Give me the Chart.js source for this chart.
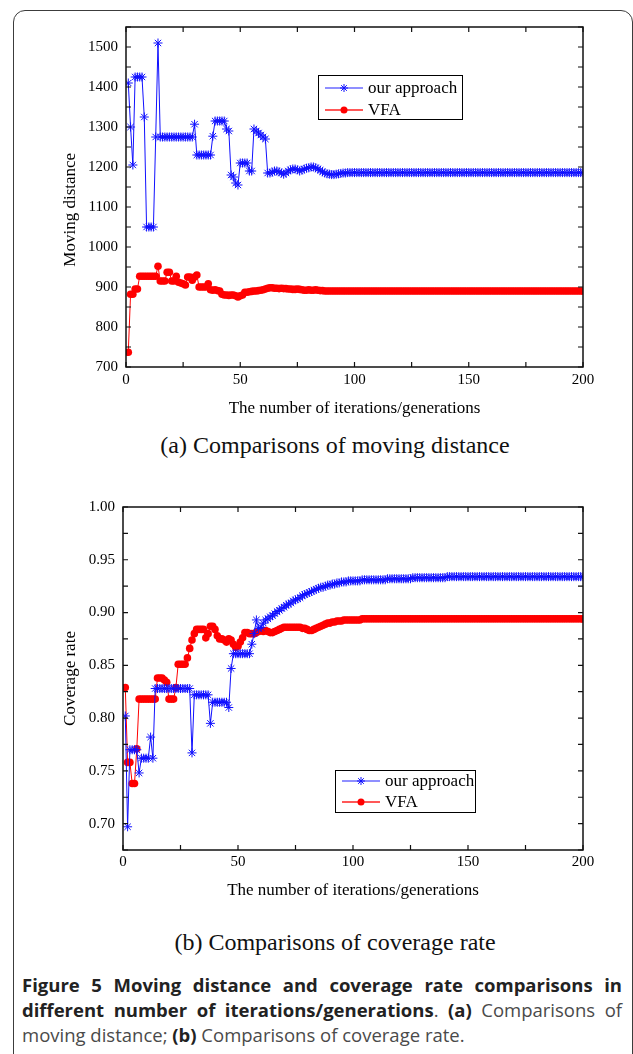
<!DOCTYPE html>
<html lang="en">
<head>
<meta charset="UTF-8">
<title>Figure 5 - Moving distance and coverage rate</title>
<script src="https://cdn.jsdelivr.net/npm/chart.js"></script>
<style>
  html, body { margin: 0; padding: 0; background: #fff; }
  body { width: 633px; height: 1054px; position: relative; overflow: hidden; }
  .frame { position: absolute; left: 13px; top: 10px; width: 620px; height: 1100px;
           border: 1.5px solid #3c3c3c; border-radius: 12px; box-sizing: border-box; }
  canvas { position: absolute; left: 0; }
  #distChart { top: 0; }
  #covChart { top: 470px; }
  .sub { position: absolute; left: 0; width: 670px; text-align: center;
         font-family: "Liberation Serif", "Times New Roman", serif; font-size: 24px; color: #111; }
  .caption { position: absolute; left: 22px; top: 972px; width: 600px;
             font-family: "Open Sans", "Noto Sans", sans-serif; font-size: 18.5px; line-height: 25px; color: #4a4a4a; }
  .caption div { text-align: justify; white-space: nowrap; }
  .caption .j { text-align-last: justify; }
  .caption b { color: #222; }
</style>
</head>
<body>
<div class="frame"></div>
<canvas id="distChart" width="633" height="425"></canvas>
<div class="sub" style="top: 432px;">(a) Comparisons of moving distance</div>
<canvas id="covChart" width="633" height="437"></canvas>
<div class="sub" style="top: 929px;">(b) Comparisons of coverage rate</div>
<div class="caption">
  <div class="j"><b>Figure 5 Moving distance and coverage rate comparisons in</b></div>
  <div class="j"><b>different number of iterations/generations</b>. <b>(a)</b> Comparisons of</div>
  <div>moving distance; <b>(b)</b> Comparisons of coverage rate.</div>
</div>
<script>
// iterations 1..200
const iterations = Array.from({ length: 200 }, (_, i) => i + 1);
const seriesNames = ['our approach', 'VFA'];

// (a) moving distance
const distOurs = [
  1410, 1300, 1205, 1425, 1425, 1425, 1425, 1325, 1050, 1050,
  1050, 1050, 1275, 1510, 1275, 1275, 1275, 1275, 1275, 1275,
  1275, 1275, 1275, 1275, 1275, 1275, 1275, 1275, 1275, 1307,
  1230, 1230, 1230, 1230, 1230, 1230, 1230, 1277, 1315, 1315,
  1315, 1315, 1315, 1295, 1290, 1180, 1175, 1160, 1155, 1210,
  1210, 1210, 1210, 1190, 1190, 1295, 1290, 1285, 1280, 1275,
  1270, 1185, 1185, 1187, 1190, 1190, 1188, 1185, 1182, 1185,
  1190, 1193, 1195, 1195, 1193, 1190, 1192, 1195, 1197, 1198,
  1200, 1200, 1198, 1195, 1192, 1188, 1185, 1183, 1182, 1181,
  1181, 1182, 1183, 1184, 1185, 1185, 1186, 1186, 1186, 1186,
  1186, 1186, 1186, 1186, 1186, 1186, 1186, 1186, 1186, 1186,
  1186, 1186, 1186, 1186, 1186, 1186, 1186, 1186, 1186, 1186,
  1186, 1186, 1186, 1186, 1186, 1186, 1186, 1186, 1186, 1186,
  1186, 1186, 1186, 1186, 1186, 1186, 1186, 1186, 1186, 1186,
  1186, 1186, 1186, 1186, 1186, 1186, 1186, 1186, 1186, 1186,
  1186, 1186, 1186, 1186, 1186, 1186, 1186, 1186, 1186, 1186,
  1186, 1186, 1186, 1186, 1186, 1186, 1186, 1186, 1186, 1186,
  1186, 1186, 1186, 1186, 1186, 1186, 1186, 1186, 1186, 1186,
  1186, 1186, 1186, 1186, 1186, 1186, 1186, 1186, 1186, 1186,
  1186, 1186, 1186, 1186, 1186, 1186, 1186, 1186, 1186, 1186
];
const distVfa = [
  737, 882, 882, 895, 895, 927, 927, 927, 927, 927,
  927, 927, 927, 952, 915, 915, 915, 937, 937, 915,
  915, 927, 912, 910, 908, 905, 925, 925, 917, 925,
  930, 900, 900, 900, 900, 908, 893, 892, 893, 891,
  890, 882, 880, 880, 879, 880, 880, 878, 875, 878,
  880, 887, 887, 888, 889, 890, 890, 891, 892, 893,
  895, 897, 898, 898, 897, 897, 896, 897, 896, 896,
  895, 895, 894, 894, 895, 894, 893, 892, 892, 893,
  892, 892, 893, 892, 891, 891, 890, 890, 890, 890,
  890, 890, 890, 890, 890, 890, 890, 890, 890, 890,
  890, 890, 890, 890, 890, 890, 890, 890, 890, 890,
  890, 890, 890, 890, 890, 890, 890, 890, 890, 890,
  890, 890, 890, 890, 890, 890, 890, 890, 890, 890,
  890, 890, 890, 890, 890, 890, 890, 890, 890, 890,
  890, 890, 890, 890, 890, 890, 890, 890, 890, 890,
  890, 890, 890, 890, 890, 890, 890, 890, 890, 890,
  890, 890, 890, 890, 890, 890, 890, 890, 890, 890,
  890, 890, 890, 890, 890, 890, 890, 890, 890, 890,
  890, 890, 890, 890, 890, 890, 890, 890, 890, 890,
  890, 890, 890, 890, 890, 890, 890, 890, 890, 890
];

// (b) coverage rate
const covOurs = [
  0.802, 0.697, 0.770, 0.770, 0.770, 0.770, 0.748, 0.762, 0.762, 0.762,
  0.762, 0.782, 0.762, 0.828, 0.828, 0.828, 0.828, 0.828, 0.828, 0.828,
  0.828, 0.828, 0.828, 0.828, 0.828, 0.828, 0.828, 0.828, 0.828, 0.767,
  0.822, 0.822, 0.822, 0.822, 0.822, 0.822, 0.822, 0.795, 0.815, 0.815,
  0.815, 0.815, 0.815, 0.815, 0.815, 0.810, 0.847, 0.861, 0.861, 0.861,
  0.861, 0.861, 0.861, 0.861, 0.861, 0.870, 0.880, 0.893, 0.885, 0.886,
  0.890, 0.893, 0.894, 0.896, 0.897, 0.899, 0.901, 0.902, 0.904, 0.905,
  0.907, 0.908, 0.909, 0.911, 0.912, 0.913, 0.914, 0.916, 0.917, 0.918,
  0.919, 0.920, 0.921, 0.922, 0.923, 0.924, 0.924, 0.925, 0.926, 0.926,
  0.927, 0.927, 0.928, 0.928, 0.929, 0.929, 0.929, 0.930, 0.930, 0.930,
  0.930, 0.930, 0.930, 0.931, 0.931, 0.931, 0.931, 0.931, 0.931, 0.931,
  0.931, 0.931, 0.931, 0.931, 0.932, 0.932, 0.932, 0.932, 0.932, 0.932,
  0.932, 0.932, 0.932, 0.932, 0.932, 0.933, 0.933, 0.933, 0.933, 0.933,
  0.933, 0.933, 0.933, 0.933, 0.933, 0.933, 0.933, 0.933, 0.933, 0.933,
  0.934, 0.934, 0.934, 0.934, 0.934, 0.934, 0.934, 0.934, 0.934, 0.934,
  0.934, 0.934, 0.934, 0.934, 0.934, 0.934, 0.934, 0.934, 0.934, 0.934,
  0.934, 0.934, 0.934, 0.934, 0.934, 0.934, 0.934, 0.934, 0.934, 0.934,
  0.934, 0.934, 0.934, 0.934, 0.934, 0.934, 0.934, 0.934, 0.934, 0.934,
  0.934, 0.934, 0.934, 0.934, 0.934, 0.934, 0.934, 0.934, 0.934, 0.934,
  0.934, 0.934, 0.934, 0.934, 0.934, 0.934, 0.934, 0.934, 0.934, 0.934
];
const covVfa = [
  0.829, 0.758, 0.758, 0.738, 0.738, 0.771, 0.818, 0.818, 0.818, 0.818,
  0.818, 0.818, 0.818, 0.818, 0.838, 0.838, 0.838, 0.836, 0.834, 0.818,
  0.818, 0.818, 0.829, 0.851, 0.851, 0.851, 0.851, 0.857, 0.866, 0.874,
  0.880, 0.884, 0.884, 0.884, 0.884, 0.876, 0.880, 0.887, 0.887, 0.884,
  0.878, 0.875, 0.875, 0.874, 0.872, 0.875, 0.874, 0.870, 0.867, 0.868,
  0.872, 0.876, 0.881, 0.881, 0.880, 0.880, 0.880, 0.881, 0.882, 0.883,
  0.882, 0.883, 0.882, 0.881, 0.881, 0.882, 0.883, 0.884, 0.885, 0.886,
  0.886, 0.886, 0.886, 0.886, 0.886, 0.886, 0.886, 0.885, 0.885, 0.884,
  0.883, 0.883, 0.884, 0.885, 0.886, 0.887, 0.888, 0.889, 0.890, 0.890,
  0.891, 0.891, 0.892, 0.892, 0.892, 0.893, 0.893, 0.893, 0.893, 0.893,
  0.893, 0.893, 0.893, 0.894, 0.894, 0.894, 0.894, 0.894, 0.894, 0.894,
  0.894, 0.894, 0.894, 0.894, 0.894, 0.894, 0.894, 0.894, 0.894, 0.894,
  0.894, 0.894, 0.894, 0.894, 0.894, 0.894, 0.894, 0.894, 0.894, 0.894,
  0.894, 0.894, 0.894, 0.894, 0.894, 0.894, 0.894, 0.894, 0.894, 0.894,
  0.894, 0.894, 0.894, 0.894, 0.894, 0.894, 0.894, 0.894, 0.894, 0.894,
  0.894, 0.894, 0.894, 0.894, 0.894, 0.894, 0.894, 0.894, 0.894, 0.894,
  0.894, 0.894, 0.894, 0.894, 0.894, 0.894, 0.894, 0.894, 0.894, 0.894,
  0.894, 0.894, 0.894, 0.894, 0.894, 0.894, 0.894, 0.894, 0.894, 0.894,
  0.894, 0.894, 0.894, 0.894, 0.894, 0.894, 0.894, 0.894, 0.894, 0.894,
  0.894, 0.894, 0.894, 0.894, 0.894, 0.894, 0.894, 0.894, 0.894, 0.894
];

// tick labels
const xTicks = [0, 50, 100, 150, 200];
const distTicks = [700, 800, 900, 1000, 1100, 1200, 1300, 1400, 1500];
const covTicks = [0.70, 0.75, 0.80, 0.85, 0.90, 0.95, 1.00];

const SERIF = "'Liberation Serif', 'Times New Roman', serif";
Chart.defaults.font.family = SERIF;
Chart.defaults.color = '#000';

function toPoints(ys) {
  return iterations.map((x, i) => ({ x: x, y: ys[i] }));
}

// box around the plot plus small inward ticks on all four sides
const frameTicks = {
  id: 'frameTicks',
  afterDatasetsDraw(chart, args, opts) {
    const { ctx, chartArea: a, scales } = chart;
    ctx.save();
    ctx.strokeStyle = '#111';
    ctx.lineWidth = 1.5;
    ctx.strokeRect(a.left, a.top, a.right - a.left, a.bottom - a.top);
    ctx.lineWidth = 1.2;
    const len = 5;
    ctx.beginPath();
    const nx = Math.round((opts.xMax - opts.xMin) / opts.xStep);
    for (let k = 0; k <= nx; k++) {
      const px = scales.x.getPixelForValue(opts.xMin + k * opts.xStep);
      ctx.moveTo(px, a.bottom); ctx.lineTo(px, a.bottom - len);
      ctx.moveTo(px, a.top); ctx.lineTo(px, a.top + len);
    }
    const ny = Math.round((opts.yMax - opts.yMin) / opts.yStep);
    for (let k = 0; k <= ny; k++) {
      const py = scales.y.getPixelForValue(opts.yMin + k * opts.yStep);
      ctx.moveTo(a.left, py); ctx.lineTo(a.left + len, py);
      ctx.moveTo(a.right, py); ctx.lineTo(a.right - len, py);
    }
    ctx.stroke();
    ctx.restore();
  }
};

function drawMarker(ctx, style, x, y, r, color) {
  ctx.strokeStyle = color;
  ctx.fillStyle = color;
  if (style === 'circle') {
    ctx.beginPath();
    ctx.arc(x, y, r, 0, Math.PI * 2);
    ctx.fill();
  } else {
    ctx.beginPath();
    for (let k = 0; k < 4; k++) {
      const ang = k * Math.PI / 4;
      ctx.moveTo(x - Math.cos(ang) * r, y - Math.sin(ang) * r);
      ctx.lineTo(x + Math.cos(ang) * r, y + Math.sin(ang) * r);
    }
    ctx.stroke();
  }
}

// boxed legend inside the plot
const boxLegend = {
  id: 'boxLegend',
  afterDraw(chart, args, opts) {
    const { ctx } = chart;
    ctx.save();
    ctx.fillStyle = '#fff';
    ctx.fillRect(opts.x, opts.y, opts.w, opts.h);
    ctx.strokeStyle = '#000';
    ctx.lineWidth = 1;
    ctx.strokeRect(opts.x + 0.5, opts.y + 0.5, opts.w, opts.h);
    ctx.font = '17px ' + SERIF;
    ctx.textBaseline = 'middle';
    chart.data.datasets.forEach((ds, i) => {
      const cy = opts.y + opts.rowTop + i * opts.rowGap;
      ctx.strokeStyle = ds.legendLine;
      ctx.lineWidth = 1.5;
      ctx.beginPath();
      ctx.moveTo(opts.x + 7, cy); ctx.lineTo(opts.x + 45, cy);
      ctx.stroke();
      ctx.lineWidth = 1;
      drawMarker(ctx, ds.pointStyle, opts.x + 26, cy, ds.pointStyle === 'circle' ? 3.5 : 4, ds.borderColor);
      ctx.fillStyle = '#000';
      ctx.fillText(ds.label, opts.x + 50, cy + 1);
    });
    ctx.restore();
  }
};

function makeDatasets(oursY, vfaY) {
  return [
    {
      label: seriesNames[0],
      data: toPoints(oursY),
      borderColor: '#1010ff',
      backgroundColor: '#1010ff',
      legendLine: '#6a6aff',
      borderWidth: 1,
      pointStyle: 'star',
      pointRadius: 4.5,
      pointBorderWidth: 1,
      tension: 0
    },
    {
      label: seriesNames[1],
      data: toPoints(vfaY),
      borderColor: '#ff0000',
      backgroundColor: '#ff0000',
      legendLine: '#ff2020',
      borderWidth: 1,
      pointStyle: 'circle',
      pointRadius: 3.8,
      pointBorderWidth: 0,
      tension: 0
    }
  ];
}

function makeOptions(cfg) {
  return {
    responsive: false,
    animation: false,
    devicePixelRatio: 1,
    layout: { padding: { left: 0, top: cfg.padTop, right: 50, bottom: 0 } },
    plugins: {
      legend: { display: false },
      tooltip: { enabled: false },
      frameTicks: cfg.frame,
      boxLegend: cfg.legend
    },
    scales: {
      x: {
        type: 'linear',
        min: 0,
        max: 200,
        afterFit: s => { s.height = cfg.xHeight; },
        afterBuildTicks: s => { s.ticks = xTicks.map(v => ({ value: v })); },
        grid: { display: false, drawTicks: false },
        border: { display: false },
        ticks: { padding: cfg.xPad, font: { size: 15 }, maxRotation: 0 },
        title: { display: true, text: 'The number of iterations/generations',
                 font: { size: 17 }, padding: { top: 0, bottom: 6 } }
      },
      y: {
        min: cfg.yMin,
        max: cfg.yMax,
        afterFit: s => { s.width = cfg.yWidth; },
        afterBuildTicks: s => { s.ticks = cfg.yTicks.map(v => ({ value: v })); },
        grid: { display: false, drawTicks: false },
        border: { display: false },
        ticks: { padding: 8, font: { size: 15 }, callback: cfg.yFormat },
        title: { display: true, text: cfg.yTitle, font: { size: 17 },
                 padding: { top: 60, bottom: 0 } }
      }
    }
  };
}

new Chart(document.getElementById('distChart'), {
  type: 'line',
  data: { datasets: makeDatasets(distOurs, distVfa) },
  options: makeOptions({
    padTop: 27, xHeight: 58, yWidth: 126, xPad: 4,
    yMin: 700, yMax: 1550, yTicks: distTicks,
    // trailing spaces nudge the label down a little, as in the original
    yTitle: 'Moving distance\u00a0\u00a0\u00a0\u00a0\u00a0\u00a0',
    yFormat: v => String(v),
    frame: { xMin: 0, xMax: 200, xStep: 25, yMin: 700, yMax: 1550, yStep: 50 },
    legend: { x: 318, y: 75, w: 144, h: 44, rowTop: 13, rowGap: 22 }
  }),
  plugins: [frameTicks, boxLegend]
});

new Chart(document.getElementById('covChart'), {
  type: 'line',
  data: { datasets: makeDatasets(covOurs, covVfa) },
  options: makeOptions({
    padTop: 37, xHeight: 57, yWidth: 123, xPad: 3,
    yMin: 0.675, yMax: 1.0, yTicks: covTicks, yTitle: 'Coverage rate',
    yFormat: v => v.toFixed(2),
    frame: { xMin: 0, xMax: 200, xStep: 25, yMin: 0.675, yMax: 1.0, yStep: 0.025 },
    legend: { x: 335, y: 300, w: 140, h: 42, rowTop: 11, rowGap: 21 }
  }),
  plugins: [frameTicks, boxLegend]
});
</script>
</body>
</html>
